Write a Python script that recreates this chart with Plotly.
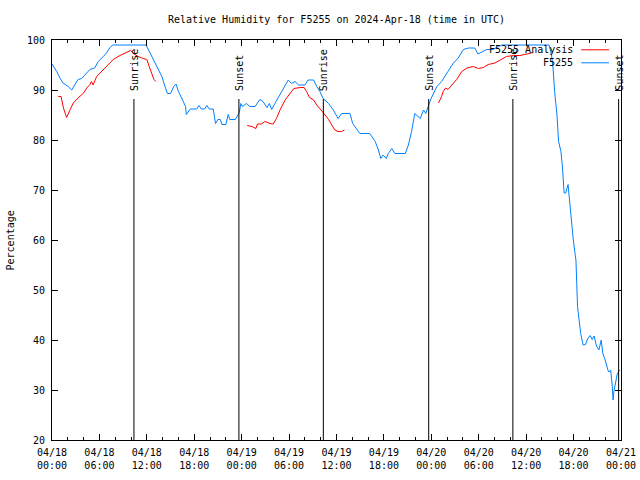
import pandas as pd
import plotly.graph_objects as go

BASE = pd.Timestamp("2024-04-18 00:00")

# Observed relative humidity, F5255 (hours since 04/18 00:00 UTC, percent)
obs_hours = [0.0, 0.6, 1.0, 1.4, 2.05, 2.5, 2.9, 3.3, 3.75, 4.2, 4.8, 5.4, 5.85, 6.5, 6.9, 7.3, 7.65,
             11.9, 12.2, 12.6, 13.0, 13.45, 13.9, 14.3, 14.6, 15.0, 15.4, 15.7, 16.0, 16.4, 16.9, 17.0,
             17.5, 18.3, 18.6, 18.9, 19.3, 19.6, 19.9, 20.4, 20.7, 21.0, 21.3, 21.5, 22.0, 22.3, 22.5,
             23.2, 23.7, 23.9, 24.1, 24.6, 25.05, 25.7, 26.1, 26.3, 26.7, 27.2, 27.5, 27.8, 28.2, 28.85,
             29.5, 29.9, 30.3, 30.75, 31.2, 32.0, 32.4, 33.1, 33.5, 33.9, 34.3, 35.0, 35.6, 36.2, 36.65,
             37.7, 38.05, 38.55, 38.95, 40.2, 40.6, 40.9, 41.3, 41.6, 41.9, 42.3, 42.55, 43.0, 43.4,
             44.7, 45.1, 45.5, 45.9, 46.6, 47.0, 47.3, 47.6, 48.0, 48.7, 49.3, 50.1, 50.8, 51.4, 52.05,
             52.7, 53.5, 53.9, 54.6, 55.0, 55.8, 56.9, 62.9, 63.2, 63.4, 63.6, 63.9, 64.1, 64.4, 64.6,
             64.8, 65.0, 65.3, 65.5, 65.75, 65.95, 66.2, 66.3, 66.4, 66.5, 66.7, 66.9, 67.2, 67.5, 67.8,
             68.1, 68.35, 68.6, 68.9, 69.2, 69.5, 69.7, 70.0, 70.4, 70.6, 70.7, 70.9, 71.0, 71.1, 71.3,
             71.5, 71.7, 71.9]
obs_values = [95.2, 93.7, 92.4, 91.4, 90.7, 90.0, 91.1, 92.1, 92.3, 93.1, 94.1, 94.4, 95.7, 96.7, 97.4, 98.4, 99.0,
              99.0, 98.1, 96.7, 95.4, 94.1, 92.7, 90.7, 89.3, 89.3, 90.7, 91.2, 89.7, 88.4, 86.7, 85.1,
              86.2, 86.2, 86.9, 86.2, 86.2, 86.9, 86.2, 86.2, 83.3, 84.1, 84.1, 83.1, 83.1, 85.1, 84.1,
              84.1, 85.5, 87.3, 86.7, 87.3, 86.7, 86.7, 87.7, 88.1, 87.7, 86.5, 87.3, 86.1, 87.3, 89.0,
              90.7, 92.0, 91.3, 91.7, 91.0, 91.0, 92.0, 92.0, 90.7, 89.7, 88.3, 87.3, 86.0, 84.3, 85.3,
              85.3, 83.3, 82.3, 81.3, 81.3, 80.3, 79.7, 78.0, 76.3, 77.0, 76.3, 77.3, 78.3, 77.3,
              77.3, 79.0, 81.7, 85.3, 84.3, 86.0, 85.3, 86.7, 88.4, 90.7, 91.7, 93.7, 95.4, 96.4, 98.1,
              98.4, 98.4, 97.2, 97.7, 98.1, 98.1, 99.0, 99.0, 97.1, 94.4, 89.7, 85.0, 79.7, 77.7, 74.4,
              69.4, 69.4, 71.1, 67.7, 62.4, 60.2, 57.1, 56.0, 51.3, 46.7, 44.0, 41.3, 39.0, 39.1, 40.3,
              40.9, 40.1, 40.8, 38.8, 38.0, 40.0, 37.3, 36.0, 33.7, 33.7, 34.0, 30.7, 28.0, 29.7, 31.3,
              33.0, 33.8, 34.0]

# Analysis relative humidity, F5255 Analysis (None = gap)
ana_hours = [0.8, 1.15, 1.45, 1.85, 2.3, 2.7, 3.3, 4.0, 4.4, 4.8, 5.0, 5.2, 5.65, 6.3, 6.9, 7.75, 8.6, 9.2,
             9.95, 10.4, 10.9, 11.55, 12.0, 12.3, 12.6, 12.9, 13.15, 13.2,
             24.7, 25.3, 25.8, 26.0, 26.5, 26.95, 27.6, 28.0, 28.4, 28.85, 29.5, 30.1, 30.6, 31.4, 31.9,
             32.2, 32.6, 33.1, 33.5, 34.3, 35.0, 35.4, 35.8, 36.2, 36.65, 37.0, 37.1,
             48.9, 49.3, 49.5, 49.8, 50.1, 50.6, 51.2, 51.85, 52.5, 53.3, 53.95, 54.6, 55.2, 56.05, 56.9,
             57.5, 58.4, 59.2, 60.1, 60.9]
ana_values = [88.7, 88.7, 86.4, 84.5, 86.1, 87.4, 88.4, 89.4, 90.4, 91.1, 91.7, 91.0, 92.7, 93.7, 94.7, 96.1, 96.9, 97.4,
              97.9, 97.2, 96.7, 96.3, 96.1, 94.7, 93.4, 92.1, 91.7, None,
              82.9, 82.7, 82.3, 83.2, 83.2, 83.7, 83.3, 83.2, 84.3, 86.0, 88.0, 89.3, 90.3, 90.5, 90.5,
              89.7, 88.5, 88.0, 87.0, 85.5, 84.1, 83.0, 82.0, 81.7, 81.7, 82.0, None,
              87.4, 88.7, 89.7, 90.4, 90.1, 91.1, 92.1, 93.7, 94.4, 94.7, 94.3, 94.5, 95.1, 95.4, 96.1,
              96.7, 96.9, 96.9, 97.2, 97.5]

# Sun events (UTC)
sun_times = ["2024-04-18 10:22", "2024-04-18 23:39", "2024-04-19 10:20",
             "2024-04-19 23:40", "2024-04-20 10:19", "2024-04-20 23:42"]
sun_labels = ["Sunrise", "Sunset", "Sunrise", "Sunset", "Sunrise", "Sunset"]

series_names = ["F5255 Analysis", "F5255"]
series_colors = ["#ff0000", "#0080ff"]

FONT = "DejaVu Sans Mono"

obs_t = [BASE + pd.Timedelta(hours=h) for h in obs_hours]
ana_t = [BASE + pd.Timedelta(hours=h) for h in ana_hours]

fig = go.Figure()
fig.add_trace(go.Scatter(x=ana_t, y=ana_values, mode="lines", name=series_names[0],
                         line=dict(color=series_colors[0], width=1), connectgaps=False))
fig.add_trace(go.Scatter(x=obs_t, y=obs_values, mode="lines", name=series_names[1],
                         line=dict(color=series_colors[1], width=1)))

# Sunrise / sunset markers
for t, lab in zip(sun_times, sun_labels):
    fig.add_shape(type="line", xref="x", yref="y", x0=t, x1=t, y0=20, y1=88.2,
                  line=dict(color="black", width=1))
    fig.add_annotation(x=t, y=89.4, xref="x", yref="y", text=lab, showarrow=False,
                       textangle=-90, xanchor="center", yanchor="bottom",
                       font=dict(family=FONT, size=10, color="black"))

# Legend (gnuplot style: text left, sample right)
leg_y = [0.9755, 0.943]
for name, col, yy in zip(series_names, series_colors, leg_y):
    fig.add_annotation(x=0.919, y=yy, xref="paper", yref="paper", text=name, showarrow=False,
                       xanchor="right", yanchor="middle",
                       font=dict(family=FONT, size=10, color="black"))
    fig.add_shape(type="line", xref="paper", yref="paper", x0=0.930, x1=0.979, y0=yy, y1=yy,
                  line=dict(color=col, width=1))

# Y axis label
fig.add_annotation(x=-0.073, y=0.5, xref="paper", yref="paper", text="Percentage",
                   showarrow=False, textangle=-90, xanchor="center", yanchor="middle",
                   font=dict(family=FONT, size=10, color="black"))

fig.update_layout(
    width=640, height=480,
    margin=dict(l=52, r=19, t=40, b=40, autoexpand=False),
    paper_bgcolor="white", plot_bgcolor="white",
    showlegend=False,
    font=dict(family=FONT, size=10, color="black"),
    title=dict(text="Relative Humidity for F5255 on 2024-Apr-18 (time in UTC)",
               x=0.5, xref="paper", xanchor="center", y=1 - 19 / 480, yanchor="middle",
               font=dict(family=FONT, size=10, color="black")),
)
fig.update_xaxes(
    type="date", range=["2024-04-18 00:00", "2024-04-21 00:00"],
    dtick=6 * 3600 * 1000, tick0="2024-04-18 00:00", tickformat="%m/%d<br>%H:%M",
    showgrid=False, zeroline=False, showline=True, linecolor="black", linewidth=1,
    mirror="ticks", ticks="inside", ticklen=6, tickcolor="black", automargin=False,
    ticklabelstandoff=3,
    minor=dict(dtick=2 * 3600 * 1000, tick0="2024-04-18 00:00", ticks="inside", ticklen=3,
               tickcolor="black", showgrid=False),
    tickfont=dict(family=FONT, size=10, color="black"),
)
fig.update_yaxes(
    range=[20, 100], dtick=10, tick0=20, automargin=False,
    showgrid=False, zeroline=False, showline=True, linecolor="black", linewidth=1,
    mirror="ticks", ticks="inside", ticklen=6, tickcolor="black",
    ticklabelstandoff=4,
    tickfont=dict(family=FONT, size=10, color="black"),
)

fig.write_html("out.html")
